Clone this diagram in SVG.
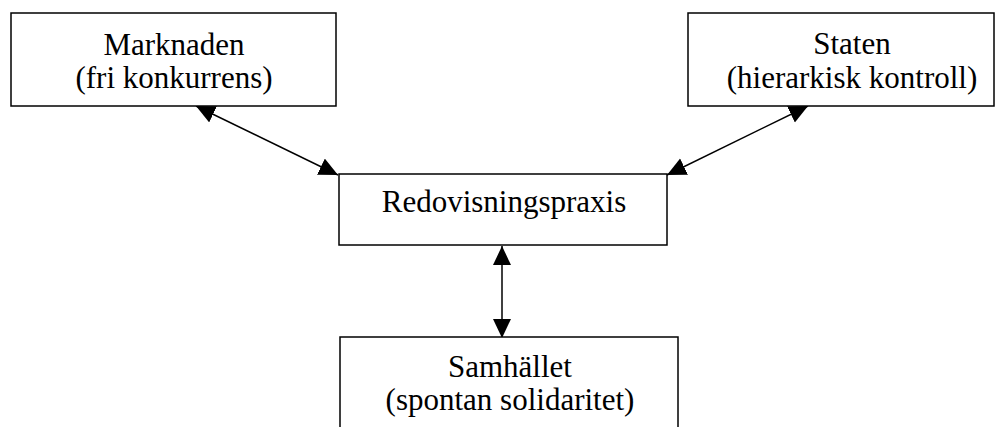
<svg xmlns="http://www.w3.org/2000/svg" width="1006" height="427" viewBox="0 0 1006 427">
<style>
.box{fill:#fff;stroke:#000;stroke-width:1.5}
.t{font-family:"Liberation Serif","Times New Roman",serif;font-size:31px;fill:#000;text-anchor:middle}
.c{stroke:#000;stroke-width:1.5;fill:none;marker-start:url(#ah);marker-end:url(#ah)}
</style>
<defs>
<marker id="ah" markerUnits="userSpaceOnUse" markerWidth="22" markerHeight="20" refX="19" refY="9" orient="auto-start-reverse">
<path d="M0,0 L19,9 L0,18 z" fill="#000"/>
</marker>
</defs>
<g id="connectors">
<line class="c" x1="196" y1="106" x2="338" y2="175"/>
<line class="c" x1="808" y1="106" x2="667" y2="175"/>
<line class="c" x1="502" y1="246" x2="502" y2="338"/>
</g>
<g id="marknaden">
<rect class="box" x="11" y="13" width="325" height="93"/>
<text class="t" x="174" y="55">Marknaden</text>
<text class="t" x="174" y="88">(fri konkurrens)</text>
</g>
<g id="staten">
<rect class="box" x="688" y="13" width="306" height="93"/>
<text class="t" x="852" y="54">Staten</text>
<text class="t" x="852" y="88">(hierarkisk kontroll)</text>
</g>
<g id="redovisningspraxis">
<rect class="box" x="339" y="174" width="328" height="71"/>
<text class="t" x="504" y="212">Redovisningspraxis</text>
</g>
<g id="samhallet">
<rect class="box" x="340" y="337" width="338" height="100"/>
<text class="t" x="510" y="377">Samhället</text>
<text class="t" x="510" y="410">(spontan solidaritet)</text>
</g>
</svg>
